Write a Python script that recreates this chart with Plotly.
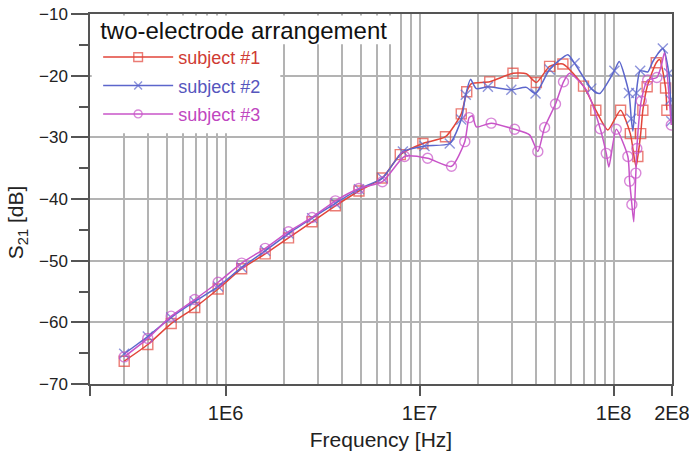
import plotly.graph_objects as go

# Transmission S21 versus frequency, two-electrode arrangement, three subjects.
# Each series: frequency [Hz], S21 [dB], and the indices of points drawn with a symbol.
freq_1 = [3.0e5, 3.97e5, 5.24e5, 6.93e5, 9.15e5, 1.21e6, 1.60e6, 2.11e6, 2.79e6, 3.68e6,
          4.87e6, 6.43e6, 7.95e6, 1.04e7, 1.36e7, 1.64e7, 1.75e7, 1.85e7, 2.30e7, 3.03e7,
          3.55e7, 4.00e7, 4.68e7, 5.48e7, 7.0e7, 8.1e7, 9.35e7, 1.087e8, 1.22e8, 1.305e8,
          1.334e8, 1.38e8, 1.416e8, 1.49e8, 1.66e8, 1.73e8, 1.854e8, 1.883e8]
s21_1 = [-66.3, -63.6, -60.2, -57.6, -54.6, -51.3, -48.9, -46.3, -43.7, -41.1,
         -38.7, -36.6, -32.8, -31.0, -29.9, -26.2, -22.6, -21.3, -21.0, -19.6,
         -19.7, -21.1, -18.5, -18.1, -21.7, -25.6, -28.8, -25.6, -29.4, -34.8,
         -33.1, -29.4, -25.6, -21.8, -17.9, -17.4, -22.0, -25.6]
marks_1 = [0, 1, 2, 3, 4, 5, 6, 7, 8, 9, 10, 11, 12, 13, 14, 15, 16, 18, 19, 21, 22, 23,
           24, 25, 27, 28, 30, 31, 32, 33, 34, 36, 37]

freq_2 = [3.0e5, 3.97e5, 5.24e5, 6.93e5, 9.15e5, 1.21e6, 1.60e6, 2.11e6, 2.79e6, 3.68e6,
          4.87e6, 6.43e6, 8.2e6, 1.06e7, 1.43e7, 1.64e7, 1.73e7, 1.83e7, 1.96e7, 2.25e7,
          2.97e7, 3.55e7, 3.96e7, 4.68e7, 5.81e7, 6.3e7, 7.68e7, 8.47e7, 1.01e8, 1.07e8,
          1.20e8, 1.234e8, 1.258e8, 1.31e8, 1.372e8, 1.50e8, 1.594e8, 1.795e8, 1.928e8,
          1.967e8, 1.984e8]
s21_2 = [-65.1, -62.3, -59.2, -56.6, -54.2, -51.1, -48.4, -45.6, -43.1, -40.7,
         -38.4, -36.6, -32.3, -31.4, -31.0, -27.1, -23.1, -20.6, -22.1, -21.8,
         -22.3, -21.9, -22.9, -19.0, -16.6, -18.0, -22.1, -22.9, -19.2, -17.7,
         -22.8, -27.0, -29.0, -22.8, -19.2, -19.4, -17.7, -15.6, -19.6,
         -23.9, -27.4]
marks_2 = [0, 1, 2, 3, 4, 5, 6, 7, 8, 9, 10, 11, 12, 13, 14, 15, 16, 19, 20, 22, 23, 25,
           26, 28, 30, 31, 33, 34, 37, 38, 39, 40]

freq_3 = [3.0e5, 3.97e5, 5.24e5, 6.93e5, 9.15e5, 1.21e6, 1.60e6, 2.11e6, 2.79e6, 3.68e6,
          4.87e6, 6.43e6, 8.37e6, 1.10e7, 1.46e7, 1.71e7, 1.80e7, 1.87e7, 1.96e7, 2.34e7,
          3.09e7, 3.69e7, 4.07e7, 4.41e7, 5.02e7, 5.52e7, 5.93e7, 7.23e7, 8.54e7, 9.17e7,
          9.46e7, 1.033e8, 1.185e8, 1.21e8, 1.243e8, 1.271e8, 1.303e8, 1.318e8, 1.389e8,
          1.50e8, 1.672e8, 1.76e8, 1.83e8, 1.984e8]
s21_3 = [-65.6, -62.6, -59.0, -56.3, -53.5, -50.4, -48.0, -45.3, -43.0, -40.3,
         -38.3, -37.2, -33.1, -33.4, -34.7, -30.7, -26.8, -26.5, -28.3, -27.7,
         -28.7, -29.6, -32.3, -28.4, -24.6, -21.0, -19.6, -22.3, -28.6, -32.6,
         -34.8, -28.7, -33.1, -37.1, -40.9, -43.7, -35.8, -31.8, -24.1,
         -20.7, -20.3, -18.5, -16.3, -28.0]
marks_3 = [0, 1, 2, 3, 4, 5, 6, 7, 8, 9, 10, 11, 12, 13, 14, 15, 16, 19, 20, 22, 23, 24,
           25, 28, 29, 31, 32, 33, 34, 36, 37, 38, 39, 40, 43]

names = ["subject #1", "subject #2", "subject #3"]
x_tick_vals = [2e5, 1e6, 1e7, 1e8, 2e8]
x_tick_text = ["", "1E6", "1E7", "1E8", "2E8"]

line_colors = ["#e2453a", "#5c66cc", "#c854c8"]
text_colors = ["#cf3b33", "#5656bd", "#bf47bf"]
symbols = ["square-open", "x-thin-open", "circle-open"]

FONT = "Liberation Sans, Arial, sans-serif"

fig = go.Figure()
series = [(freq_1, s21_1, marks_1), (freq_2, s21_2, marks_2), (freq_3, s21_3, marks_3)]
for k, (f, s, marks) in enumerate(series):
    sizes = [10 if i in marks else 0 for i in range(len(f))]
    fig.add_trace(go.Scatter(
        x=f, y=s, mode="lines+markers",
        name=f'<span style="color:{text_colors[k]}">{names[k]}</span>',
        legendgroup=f"g{k}",
        line=dict(color=line_colors[k], width=1.5, shape="spline", smoothing=0.6),
        marker=dict(symbol=symbols[k], size=sizes, color=line_colors[k],
                    line=dict(color=line_colors[k], width=1.4)),
    ))

# grid lines at every 2..9 multiple of each decade
minor_grid = [m * 10 ** d for d in (5, 6, 7) for m in range(2, 10)]

fig.update_xaxes(
    type="log", range=[5.3008, 8.3013],
    tickmode="array", tickvals=x_tick_vals, ticktext=x_tick_text,
    ticks="outside", ticklen=10, tickwidth=1.5, tickcolor="#555",
    ticklabeloverflow="allow",
    showgrid=True, gridcolor="#b3b3b3", gridwidth=1.5,
    minor=dict(tickmode="array", tickvals=minor_grid, showgrid=True,
               gridcolor="#b3b3b3", gridwidth=1.5, ticks=""),
    showline=True, linecolor="#555", linewidth=1.5, mirror=True,
    tickfont=dict(family=FONT, size=20, color="#222"),
    title=dict(text="Frequency [Hz]", font=dict(family=FONT, size=21, color="#222"),
               standoff=10),
    zeroline=False, automargin=False,
)
fig.update_yaxes(
    range=[-70, -10], dtick=10, tick0=-70,
    ticks="outside", ticklen=17, tickwidth=1.5, tickcolor="#555",
    minor=dict(dtick=5, ticks="outside", ticklen=9, tickwidth=1.5, tickcolor="#555",
               showgrid=False),
    showgrid=True, gridcolor="#b3b3b3", gridwidth=1.5,
    showline=True, linecolor="#555", linewidth=1.5, mirror=True,
    tickfont=dict(family=FONT, size=17, color="#222"),
    zeroline=False, automargin=False,
)

# white backing behind the legend block
for x1, y0, y1 in [(0.525, 0.918, 0.996), (0.327, 0.678, 0.92)]:
    fig.add_shape(type="rect", xref="x domain", yref="y domain",
                  x0=0.003, x1=x1, y0=y0, y1=y1, fillcolor="white",
                  line=dict(width=0), layer="above")

fig.add_annotation(
    text="S<sub>21</sub> [dB]", textangle=-90, showarrow=False,
    xref="paper", yref="paper", x=-0.125, y=0.438, xanchor="center", yanchor="middle",
    font=dict(family=FONT, size=21, color="#222"),
)

fig.update_layout(
    width=689, height=455,
    margin=dict(l=90, r=17, t=14, b=71, autoexpand=False),
    paper_bgcolor="white", plot_bgcolor="white",
    showlegend=True,
    legend=dict(
        x=0.014, y=1.017, xanchor="left", yanchor="top",
        bgcolor="rgba(0,0,0,0)", borderwidth=0,
        title=dict(text="two-electrode arrangement",
                   font=dict(family=FONT, size=24, color="#111")),
        font=dict(family=FONT, size=18),
        tracegroupgap=2, itemsizing="trace", itemwidth=70,
    ),
)

fig.write_html("out.html")
